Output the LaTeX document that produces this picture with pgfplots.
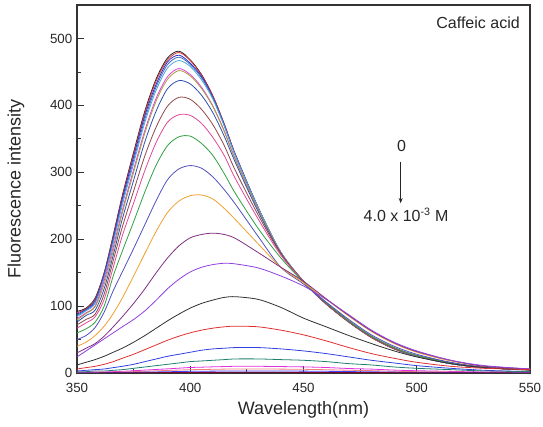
\documentclass[border=0pt]{standalone}
\usepackage{fontspec}
\setmainfont{Liberation Sans}
\usepackage{pgfplots}
\pgfplotsset{compat=1.18}
\usepackage{pgfplotstable}
\usetikzlibrary{arrows.meta}

\definecolor{c1}{HTML}{222222}
\definecolor{c2}{HTML}{E03030}
\definecolor{c3}{HTML}{3030D0}
\definecolor{c4}{HTML}{4070C0}
\definecolor{c5}{HTML}{50A8D8}
\definecolor{c6}{HTML}{E040E0}
\definecolor{c7}{HTML}{A8A040}
\definecolor{c8}{HTML}{3050B0}
\definecolor{c9}{HTML}{904848}
\definecolor{c10}{HTML}{E04898}
\definecolor{c11}{HTML}{30A040}
\definecolor{c12}{HTML}{5050C0}
\definecolor{c13}{HTML}{F0A030}
\definecolor{c14}{HTML}{803080}
\definecolor{c15}{HTML}{9040E0}
\definecolor{c16}{HTML}{303030}
\definecolor{c17}{HTML}{E03030}
\definecolor{c18}{HTML}{3040E0}
\definecolor{c19}{HTML}{208070}
\definecolor{c20}{HTML}{E030E0}
\definecolor{c21}{HTML}{F08080}
\definecolor{c22}{HTML}{4040FF}
\definecolor{c23}{HTML}{800030}

\pgfplotstableread{
x   c1  c2  c3  c4  c5  c6  c7  c8  c9  c10 c11 c12 c13 c14 c15 c16 c17 c18 c19 c20 c21 c22 c23
350 92  90  88  86  84  81  79  76  72  67  60  50  40  30  24  12  6   3   2   1   0.6 0.3 0.1
354 97  96  95  94  93  90  89  86  80  75  66  56  46  37  33  16  8   4   2   1   0.6 0.3 0.1
358 112 110 108 106 104 100 99  94  88  84  76  68  56  44  42  20  10  5   3   1.5 0.9 0.4 0.1
362 150 149 147 145 142 138 133 126 118 110 100 91  70  55  51  25  13  6   3   1.5 0.9 0.5 0.2
366 206 204 201 198 194 188 183 176 168 158 145 123 89  69  60  31  17  8   4   2   1.2 0.6 0.2
370 265 263 260 256 251 243 239 230 218 205 182 151 112 84  69  37  22  10  5   2.5 1.5 0.8 0.3
375 330 327 323 318 313 304 300 288 272 254 226 186 145 104 80  46  28  13  7   3.4 2   1   0.3
380 392 389 385 380 375 363 359 346 325 303 271 222 179 126 93  56  35  17  9   4.3 2.6 1.3 0.4
385 440 437 432 428 423 411 407 392 368 345 311 258 212 150 109 67  42  21  11  5.3 3.2 1.6 0.5
390 471 468 465 461 456 443 439 425 399 375 340 289 240 172 126 78  49  25  13  6.2 3.8 1.9 0.6
395 481 479 475 472 467 455 452 437 412 386 353 305 257 190 140 88  55  28  15  7.2 4.4 2.2 0.7
400 468 467 463 461 458 446 444 432 409 385 354 310 265 202 151 97  60  31  17  8.2 4.9 2.5 0.8
405 446 445 443 441 438 427 425 415 394 373 343 306 266 207 158 104 64  34  18  8.7 5.2 2.6 0.9
410 414 414 412 411 409 399 398 389 371 352 325 293 260 209 162 109 67  36  19  9.2 5.5 2.8 0.9
415 372 372 371 370 369 362 361 354 340 325 298 274 246 207 164 113 69  37  20  9.6 5.8 2.9 1
420 326 326 325 325 324 319 318 314 302 290 268 252 229 201 163 114 70  38  21  10  6   3   1
430 247 247 247 247 247 244 244 241 236 230 216 204 193 180 157 110 69  38  21  10  6   3   1
440 180 180 180 180 181 180 180 179 178 176 172 158 158 158 145 98  64  36  20  9.6 5.8 2.9 1
450 136 136 137 137 137 137 137 137 137 137 136 133 135 137 130 82  57  33  19  9.1 5.5 2.8 0.9
460 103 103 104 104 104 104 104 104 104 105 105 106 110 111 110 69  48  29  17  8.2 4.9 2.5 0.8
470 76  76  77  77  77  77  77  77  77  78  78  80  85  86  87  56  38  24  14  6.7 4.1 2.1 0.7
480 53  53  54  54  54  54  54  54  54  55  55  57  62  63  64  44  29  19  12  5.8 3.5 1.8 0.6
490 36  36  37  37  37  37  37  37  37  38  38  40  44  45  46  33  22  15  9   4.3 2.6 1.3 0.5
500 25  25  25  25  25  26  26  26  26  26  26  28  31  32  33  24  16  11  7   3.4 2   1   0.4
515 14  14  14  14  14  15  15  15  15  15  15  16  18  19  19  14  10  7   5   2.4 1.5 0.8 0.3
530 8   8   8   8   8   8   8   8   8   8   8   9   10  10  11  8   7   4   3   1.5 0.9 0.5 0.2
550 5   5   5   5   5   5   5   5   5   5   5   5   6   6   6   4   5   2   2   1   0.6 0.3 0.1
}\spectra

\begin{document}
\begin{tikzpicture}
\begin{axis}[
  at={(0,0)}, anchor=south west,
  scale only axis, width=339.75pt, height=276pt,
  xmin=350, xmax=550, ymin=0, ymax=550,
  xtick={350,400,...,550}, ytick={0,100,...,500},
  minor x tick num=1, minor y tick num=1,
  tick align=inside, xtick pos=left, ytick pos=left,
  major tick length=5pt, minor tick length=3pt,
  axis line style={black!80, line width=0.8pt},
  every tick/.style={black!80, line width=0.6pt},
  ticklabel style={font=\fontsize{10}{12}\selectfont, text=black!85},
  xticklabel style={yshift=-4pt},
  /pgf/number format/assume math mode=true,
  xlabel={Wavelength(nm)}, ylabel={Fluorescence intensity},
  label style={font=\fontsize{13.5}{16}\selectfont, text=black!85},
  xlabel style={at={(axis description cs:0.5,-0.1005)}, anchor=center},
  ylabel style={at={(axis description cs:-0.1347,0.5)}, anchor=center},
  every axis plot/.append style={line width=0.6pt, smooth, tension=0.5, no markers},
]
\pgfplotsinvokeforeach{1,...,23}{
  \addplot[color=c#1] table[x=x, y=c#1] {\spectra};
}
\node[anchor=north east, inner sep=0pt, font=\fontsize{12}{14}\selectfont, text=black!85,
      xshift=-7.5pt, yshift=-8.8pt] at (rel axis cs:1,1) {Caffeic acid};
\node[anchor=center, inner sep=0pt, font=\fontsize{12}{14}\selectfont, text=black!85]
      at (axis cs:493.3,339.3) {0};
\draw[-{Stealth[length=4pt,width=3pt]}, black!85, line width=0.6pt]
      (axis cs:492.9,315.8) -- (axis cs:492.9,253.7);
\node[anchor=base, inner sep=0pt, font=\fontsize{12}{14}\selectfont, text=black!85]
      at (axis cs:495.3,226.2) {4.0 x 10\textsuperscript{-3} M};
\end{axis}
\pgfresetboundingbox
\path[use as bounding box] (-57.75pt,-40.5pt) rectangle (349.5pt,279.75pt);
\end{tikzpicture}
\end{document}
